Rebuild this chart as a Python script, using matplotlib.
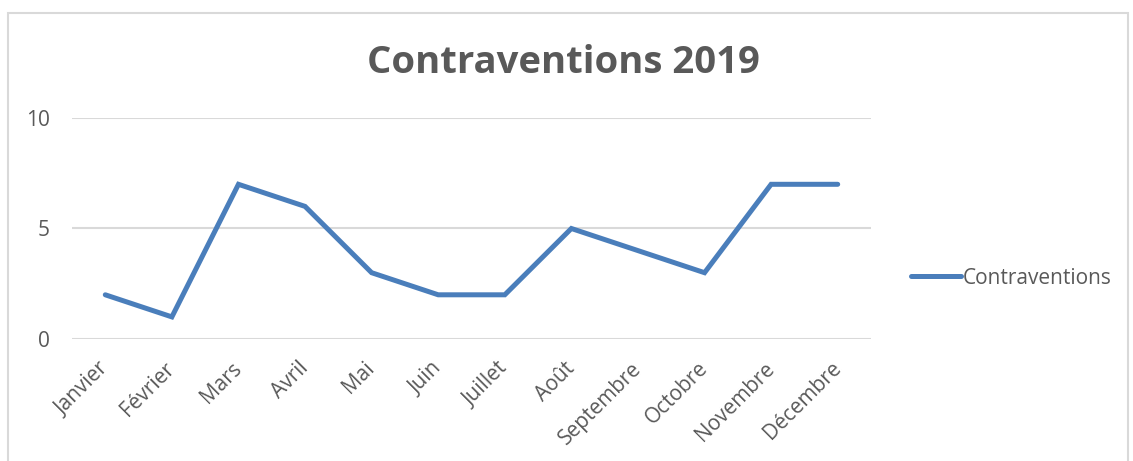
import matplotlib
matplotlib.use("Agg")
import matplotlib.pyplot as plt
from matplotlib.patches import Rectangle

months = ["Janvier", "Février", "Mars", "Avril", "Mai", "Juin", "Juillet",
          "Août", "Septembre", "Octobre", "Novembre", "Décembre"]
contraventions = [2, 1, 7, 6, 3, 2, 2, 5, 4, 3, 7, 7]
yticks = [0, 5, 10]
title = "Contraventions 2019"
series_name = "Contraventions"

plt.rcParams['font.family'] = ['Open Sans', 'DejaVu Sans']
W, H = 1133, 461
fig = plt.figure(figsize=(W / 100, H / 100), dpi=100)
fig.patch.set_facecolor('white')

# outer border
fig.add_artist(Rectangle((8 / W, -0.05), (1128 - 8) / W, (H - 13) / H + 0.05,
                         transform=fig.transFigure, fill=False,
                         edgecolor='#d9d9d9', linewidth=1.5))

ax = fig.add_axes([72 / W, (H - 339) / H, 799 / W, 221 / H])
x = list(range(len(months)))
line, = ax.plot(x, contraventions, color='#4a7ebb', linewidth=3.6,
                solid_joinstyle='miter', solid_capstyle='round', label=series_name)
ax.set_xlim(-0.5, len(months) - 0.5)
ax.set_ylim(0, 10)
ax.set_yticks(yticks)
ax.set_xticks(x)
ax.set_xticklabels(months, rotation=45, ha='right', va='center', rotation_mode='anchor')
for s in ax.spines.values():
    s.set_visible(False)
ax.grid(axis='y', color='#d9d9d9', linewidth=1.5)
ax.set_axisbelow(True)
ax.tick_params(axis='both', length=0, labelsize=15, colors='#595959')
ax.tick_params(axis='y', pad=16)
ax.tick_params(axis='x', pad=19)

fig.text(563 / W, (H - 63) / H, title, ha='center', va='center',
         fontsize=27.5, fontweight='bold', color='#595959')

leg = fig.legend(handles=[line], loc='center left',
                 bbox_to_anchor=(892 / W, (H - 278) / H), frameon=False,
                 fontsize=15, handlelength=2.4, handletextpad=0.1)
for t in leg.get_texts():
    t.set_color('#595959')

fig.savefig("out.png", dpi=100)
